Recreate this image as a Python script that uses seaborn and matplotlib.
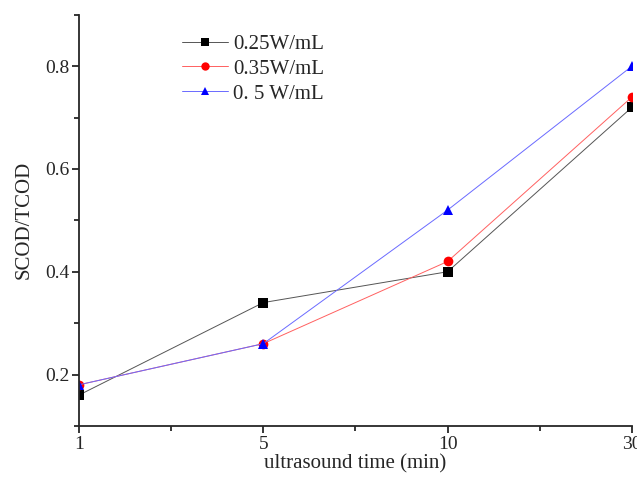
import numpy as np
import pandas as pd
import seaborn as sns
import matplotlib.pyplot as plt
from matplotlib.ticker import MultipleLocator, AutoMinorLocator

# ==========================
# Data
# ==========================

times = ["1", "5", "10", "30"]
series_names = ["0.25W/mL", "0.35W/mL", "0. 5 W/mL"]
scod_025 = [0.16, 0.34, 0.40, 0.72]
scod_035 = [0.18, 0.26, 0.42, 0.74]
scod_05 = [0.18, 0.26, 0.52, 0.80]

df = pd.DataFrame({
    "time": times * 3,
    "value": scod_025 + scod_035 + scod_05,
    "power": [series_names[0]] * 4 + [series_names[1]] * 4 + [series_names[2]] * 4,
})

# ==========================
# Style
# ==========================

sns.set_style("ticks")
plt.rcParams["font.family"] = ["Liberation Serif", "DejaVu Serif"]

marker_cols = ["black", "red", "blue"]
line_cols = ["#555555", "#ff6060", "#6a6aff"]

fig = plt.figure(figsize=(6.37, 4.78), dpi=100)
ax = fig.add_axes([0.124, 0.109, 0.868, 0.860])

palette = dict(zip(series_names, marker_cols))
markers = dict(zip(series_names, ["s", "o", "^"]))

sns.lineplot(
    data=df, x="time", y="value", hue="power", style="power",
    palette=palette, markers=markers, dashes=False,
    markersize=7, linewidth=0.7, markeredgewidth=0, ax=ax, sort=False,
)

# thin pale connecting lines, solid markers
for line, lc, mc in zip(ax.get_lines()[:3], line_cols, marker_cols):
    line.set_color(lc)
    line.set_markerfacecolor(mc)
    line.set_markeredgecolor(mc)

ax.set_xlim(0, 3)
ax.set_ylim(0.1, 0.9)
ax.yaxis.set_major_locator(MultipleLocator(0.2))
ax.yaxis.set_minor_locator(AutoMinorLocator(2))
ax.xaxis.set_minor_locator(AutoMinorLocator(2))

sns.despine(ax=ax)
for s in ["left", "bottom"]:
    ax.spines[s].set_linewidth(1.3)
ax.tick_params(which="major", direction="out", length=5, width=1.3, labelsize=14, pad=2)
ax.tick_params(which="minor", direction="out", length=3.5, width=1.3)

ax.set_xlabel("ultrasound time (min)", fontsize=15, labelpad=1)
ax.set_ylabel("SCOD/TCOD", fontsize=15, labelpad=8)

handles, labels = ax.get_legend_handles_labels()
for h, lc, mc in zip(handles, line_cols, marker_cols):
    h.set_color(lc)
    h.set_linewidth(0.7)
    h.set_markerfacecolor(mc)
    h.set_markeredgecolor(mc)
    h.set_markersize(6)
ax.legend(
    handles, labels, loc="upper left", bbox_to_anchor=(0.153, 0.998),
    frameon=False, fontsize=15, handlelength=2.2, labelspacing=0.25,
    handletextpad=0.25,
)

plt.savefig("out.png", dpi=100)
